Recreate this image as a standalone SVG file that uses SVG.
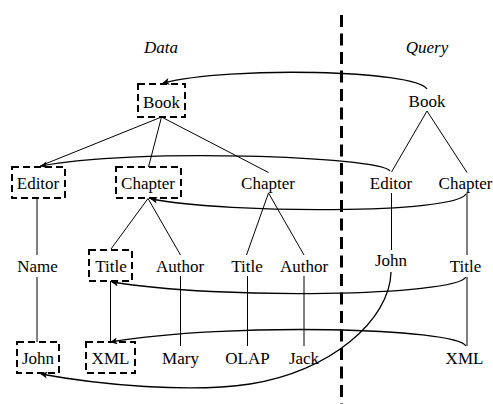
<svg xmlns="http://www.w3.org/2000/svg" width="493" height="404" viewBox="0 0 493 404" font-family="Liberation Serif" font-size="17">
<style>
text{fill:#000;text-anchor:middle}
.it{font-style:italic}
.box{fill:none;stroke:#000;stroke-width:2;stroke-dasharray:7 4}
.edge{stroke:#000;stroke-width:1;fill:none}
.arc{stroke:#000;stroke-width:1.3;fill:none;marker-end:url(#ah)}
.sep{stroke:#000;stroke-width:3;stroke-dasharray:12 6.5;fill:none}
</style>
<defs>
<marker id="ah" viewBox="0 0 10 10" refX="9" refY="5" markerWidth="8" markerHeight="7" markerUnits="userSpaceOnUse" orient="auto">
<path d="M0,0 L10,5 L0,10 L2.5,5 Z" fill="#000"/>
</marker>
</defs>
<line class="sep" x1="341.5" y1="15" x2="341.5" y2="404"/>
<text class="it" x="161" y="53">Data</text>
<text class="it" x="427" y="53">Query</text>
<g id="connectors">
<path class="edge" d="M161.5,117 L40,166 M161.5,117 L148.5,167 M161.5,117 L268.5,172.5"/>
<path class="edge" d="M427,111 L391.5,172 M427,111 L467,172.5"/>
<path class="edge" d="M37,198 L37,255 M37,277 L37,342"/>
<path class="edge" d="M148,198.5 L111,249 M148,198.5 L180.5,255"/>
<path class="edge" d="M268.5,193 L246.5,255 M268.5,193 L304,255"/>
<path class="edge" d="M391.5,193 L391.5,250 M467,193 L467,255"/>
<path class="edge" d="M110.5,281 L110.5,342 M180.5,276 L180.5,346 M247.5,276 L247.5,346 M304,276 L304,346 M467,277 L467,346"/>
<path class="arc" d="M427,89 C415,70 230,66 163,83"/>
<path class="arc" d="M390,171 C380,156 130,148 41,166"/>
<path class="arc" d="M466,194 C455,214 230,214 151,199"/>
<path class="arc" d="M466,277 C455,296 220,300 112,282"/>
<path class="arc" d="M466,346 C455,328 230,322 111,342"/>
<path class="arc" d="M391,272 C390,320 330,372 250,384 C190,393 100,385 41,374"/>
</g>
<g id="d-book"><rect class="box" x="138" y="84" width="47" height="33"/><text x="161.5" y="107.5">Book</text></g>
<g id="d-editor"><rect class="box" x="12" y="167" width="53" height="31"/><text x="38" y="188.5">Editor</text></g>
<g id="d-chapter1"><rect class="box" x="116" y="167" width="65" height="31"/><text x="148" y="188.5">Chapter</text></g>
<g id="d-chapter2"><text x="268" y="188.5">Chapter</text></g>
<g id="d-name"><text x="37.5" y="271.5">Name</text></g>
<g id="d-title1"><rect class="box" x="89" y="250" width="43" height="31"/><text x="111" y="271.5">Title</text></g>
<g id="d-author1"><text x="180" y="271.5">Author</text></g>
<g id="d-title2"><text x="247" y="271.5">Title</text></g>
<g id="d-author2"><text x="304" y="271.5">Author</text></g>
<g id="d-john"><rect class="box" x="17" y="342" width="42" height="31"/><text x="38" y="364">John</text></g>
<g id="d-xml"><rect class="box" x="86" y="342" width="49" height="31"/><text x="110.5" y="364">XML</text></g>
<g id="d-mary"><text x="180.5" y="364">Mary</text></g>
<g id="d-olap"><text x="247.5" y="364">OLAP</text></g>
<g id="d-jack"><text x="304" y="364">Jack</text></g>
<g id="q-book"><text x="427" y="107">Book</text></g>
<g id="q-editor"><text x="391" y="188.5">Editor</text></g>
<g id="q-chapter"><text x="465.5" y="188.5">Chapter</text></g>
<g id="q-john"><text x="391" y="266">John</text></g>
<g id="q-title"><text x="465.5" y="271.5">Title</text></g>
<g id="q-xml"><text x="464.5" y="364">XML</text></g>
</svg>
